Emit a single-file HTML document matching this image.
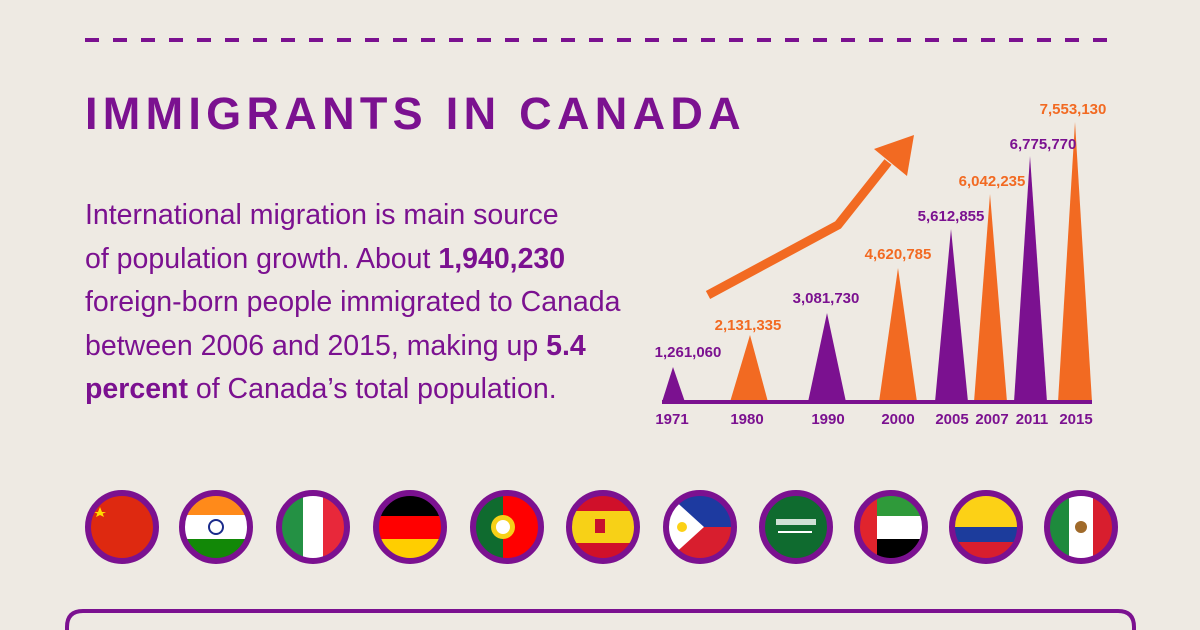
<!DOCTYPE html><html><head><style>
html,body{margin:0;width:1200px;height:630px;overflow:hidden}
body{background:#eeeae3;position:relative;font-family:"Liberation Sans",sans-serif}
.t{position:absolute;left:85px;top:88px;font-size:45px;font-weight:bold;color:#7b1190;letter-spacing:5.3px;white-space:nowrap}
.p{position:absolute;left:85px;top:194px;font-size:28.5px;line-height:43.5px;color:#7b1190;width:600px;white-space:nowrap}
</style></head><body>
<svg width="1200" height="630" style="position:absolute;left:0;top:0">
<defs><clipPath id="c"><circle cx="0" cy="0" r="34"/></clipPath></defs>
<line x1="85" y1="40" x2="1118" y2="40" stroke="#7b1190" stroke-width="4" stroke-dasharray="14,14"/>
<path d="M67,632 L67,627 Q67,611 83,611 L1118,611 Q1134,611 1134,627 L1134,632" fill="none" stroke="#7b1190" stroke-width="4"/>
<g font-family="Liberation Sans Narrow,Liberation Sans,sans-serif" font-weight="bold" font-size="15" text-anchor="middle">
<polygon points="662,402 685,402 673,367" fill="#7b1190"/>
<polygon points="730,402 768,402 750,335" fill="#f26a22"/>
<polygon points="808,402 846,402 827,313" fill="#7b1190"/>
<polygon points="879,402 917,402 898,268" fill="#f26a22"/>
<polygon points="935,402 968,402 951,229" fill="#7b1190"/>
<polygon points="974,402 1007,402 990,194" fill="#f26a22"/>
<polygon points="1014,402 1047,402 1030,156" fill="#7b1190"/>
<polygon points="1058,402 1092,402 1075,122" fill="#f26a22"/>
<rect x="662" y="400" width="430" height="4" fill="#7b1190"/>
<g fill="#7b1190"><text x="688" y="357">1,261,060</text><text x="826" y="303">3,081,730</text><text x="951" y="221">5,612,855</text><text x="1043" y="149">6,775,770</text>
<text x="672" y="424">1971</text><text x="747" y="424">1980</text><text x="828" y="424">1990</text><text x="898" y="424">2000</text><text x="952" y="424">2005</text><text x="992" y="424">2007</text><text x="1032" y="424">2011</text><text x="1076" y="424">2015</text></g>
<g fill="#f26a22"><text x="748" y="330">2,131,335</text><text x="898" y="259">4,620,785</text><text x="992" y="186">6,042,235</text><text x="1073" y="114">7,553,130</text></g>
</g>
<polyline points="708,295 838,225 888,162" fill="none" stroke="#f26a22" stroke-width="9"/>
<polygon points="874,149 914,135 907,176" fill="#f26a22"/>
<g transform="translate(122,527)" clip-path="url(#c)"><rect x="-40" y="-40" width="80" height="80" fill="#de2910"/><polygon points="-22,-20 -18,-10 -28,-15 -16,-15 -26,-10" fill="#ffde00"/></g>
<g transform="translate(216,527)" clip-path="url(#c)"><rect x="-40" y="-40" width="80" height="80" fill="#fff"/><rect x="-40" y="-40" width="80" height="28" fill="#ff8a1a"/><rect x="-40" y="12" width="80" height="28" fill="#128807"/><circle r="7" fill="none" stroke="#1a2a8a" stroke-width="2"/></g>
<g transform="translate(313,527)" clip-path="url(#c)"><rect x="-40" y="-40" width="80" height="80" fill="#fff"/><rect x="-40" y="-40" width="30" height="80" fill="#249144"/><rect x="10" y="-40" width="30" height="80" fill="#e8283a"/></g>
<g transform="translate(410,527)" clip-path="url(#c)"><rect x="-40" y="-40" width="80" height="80" fill="#ff0000"/><rect x="-40" y="-40" width="80" height="29" fill="#000"/><rect x="-40" y="12" width="80" height="28" fill="#ffce00"/></g>
<g transform="translate(507,527)" clip-path="url(#c)"><rect x="-40" y="-40" width="80" height="80" fill="#ff0000"/><rect x="-40" y="-40" width="36" height="80" fill="#0f6b2f"/><circle cx="-4" r="12" fill="#f7d117"/><circle cx="-4" r="7" fill="#fff"/></g>
<g transform="translate(603,527)" clip-path="url(#c)"><rect x="-40" y="-40" width="80" height="80" fill="#f7d117"/><rect x="-40" y="-40" width="80" height="24" fill="#d0102a"/><rect x="-40" y="16" width="80" height="24" fill="#d0102a"/><rect x="-8" y="-8" width="10" height="14" fill="#c8102e"/></g>
<g transform="translate(700,527)" clip-path="url(#c)"><rect x="-40" y="-40" width="80" height="40" fill="#1d3aa0"/><rect x="-40" y="0" width="80" height="40" fill="#d81e2e"/><polygon points="-40,-40 4,0 -40,40" fill="#fff"/><circle cx="-18" r="5" fill="#fcd116"/></g>
<g transform="translate(796,527)" clip-path="url(#c)"><rect x="-40" y="-40" width="80" height="80" fill="#0f6b2f"/><rect x="-20" y="-8" width="40" height="6" fill="#fff" opacity=".8"/><rect x="-18" y="4" width="34" height="2" fill="#fff"/></g>
<g transform="translate(891,527)" clip-path="url(#c)"><rect x="-40" y="-40" width="80" height="80" fill="#fff"/><rect x="-40" y="-40" width="80" height="29" fill="#2f9a3a"/><rect x="-40" y="12" width="80" height="28" fill="#000"/><rect x="-40" y="-40" width="26" height="80" fill="#e0242d"/></g>
<g transform="translate(986,527)" clip-path="url(#c)"><rect x="-40" y="-40" width="80" height="80" fill="#fcd116"/><rect x="-40" y="0" width="80" height="15" fill="#1c3c9c"/><rect x="-40" y="15" width="80" height="25" fill="#d81e2e"/></g>
<g transform="translate(1081,527)" clip-path="url(#c)"><rect x="-40" y="-40" width="80" height="80" fill="#fff"/><rect x="-40" y="-40" width="28" height="80" fill="#1e8a3c"/><rect x="12" y="-40" width="28" height="80" fill="#d81e2e"/><circle r="6" fill="#a06a2a"/></g>
<g fill="none" stroke="#7b1190" stroke-width="6">
<circle cx="122" cy="527" r="34"/><circle cx="216" cy="527" r="34"/><circle cx="313" cy="527" r="34"/><circle cx="410" cy="527" r="34"/><circle cx="507" cy="527" r="34"/><circle cx="603" cy="527" r="34"/><circle cx="700" cy="527" r="34"/><circle cx="796" cy="527" r="34"/><circle cx="891" cy="527" r="34"/><circle cx="986" cy="527" r="34"/><circle cx="1081" cy="527" r="34"/>
</g>
</svg>
<div class="t">IMMIGRANTS IN CANADA</div>
<div class="p">International migration is main source<br>of population growth. About <b>1,940,230</b><br>foreign-born people immigrated to Canada<br>between 2006 and 2015, making up <b>5.4</b><br><b>percent</b> of Canada’s total population.</div>
</body></html>
